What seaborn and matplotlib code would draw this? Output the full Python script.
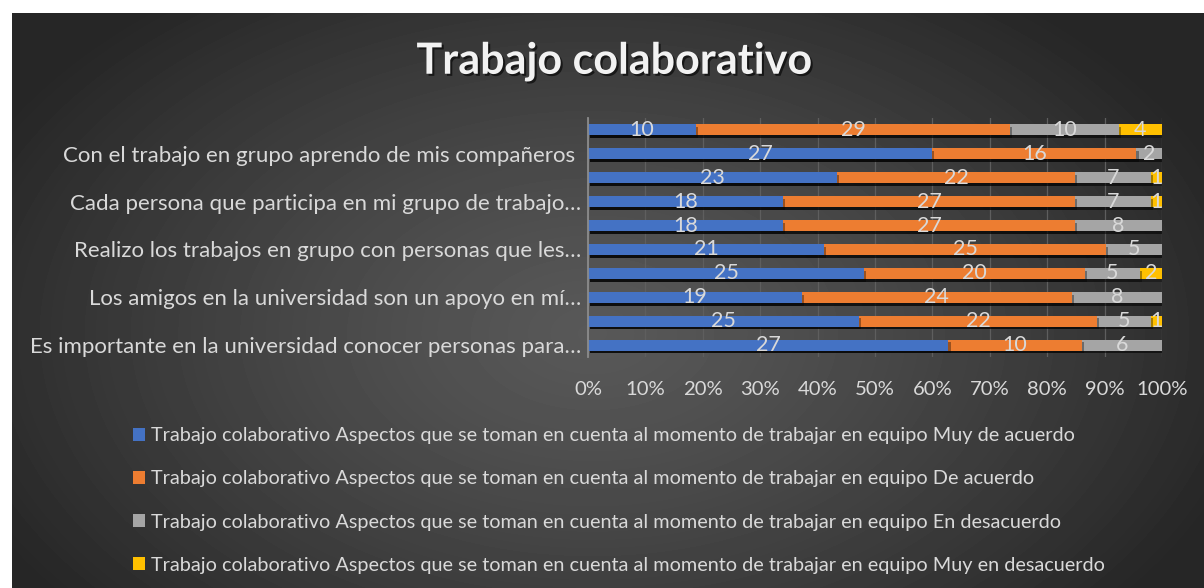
import numpy as np
import pandas as pd
import matplotlib
matplotlib.use('Agg')
import matplotlib.pyplot as plt
import matplotlib.ticker as mticker
import matplotlib.patheffects as pe
from matplotlib.patches import Patch
import seaborn as sns

# %% Datos (de arriba hacia abajo)
preguntas = ['',
             'Con el trabajo en grupo aprendo de mis compañeros ',
             '',
             'Cada persona que participa en mi grupo de trabajo…',
             '',
             'Realizo los trabajos en grupo con personas que les…',
             '',
             'Los amigos en la universidad son un apoyo en mí…',
             '',
             'Es importante en la universidad conocer personas para…']
muy_de_acuerdo = [10, 27, 23, 18, 18, 21, 25, 19, 25, 27]
de_acuerdo = [29, 16, 22, 27, 27, 25, 20, 24, 22, 10]
en_desacuerdo = [10, 2, 7, 7, 8, 5, 5, 8, 5, 6]
muy_en_desacuerdo = [4, 0, 1, 1, 0, 0, 2, 0, 1, 0]

series = ['Muy de acuerdo', 'De acuerdo', 'En desacuerdo', 'Muy en desacuerdo']
prefijo = 'Trabajo colaborativo Aspectos que se toman en cuenta al momento de trabajar en equipo '
colores = ['#4472C4', '#ED7D31', '#A5A5A5', '#FFC000']
ticks_x = [0, 0.1, 0.2, 0.3, 0.4, 0.5, 0.6, 0.7, 0.8, 0.9, 1.0]

# %% Armado del dataframe con porcentajes acumulados
df = pd.DataFrame({'fila': range(len(preguntas)),
                   series[0]: muy_de_acuerdo,
                   series[1]: de_acuerdo,
                   series[2]: en_desacuerdo,
                   series[3]: muy_en_desacuerdo})
total = df[series].sum(axis=1)
acumulado = df[series].cumsum(axis=1).div(total, axis=0)
for s in series:
    df['acum ' + s] = acumulado[s]

# %% Grafico
plt.rcParams['font.family'] = ['Lato', 'DejaVu Sans']
texto = '#D9D9D9'

fig = plt.figure(figsize=(12.04, 5.88), dpi=100, facecolor='white')

# fondo con degradado radial
bg = fig.add_axes([12 / 1204, 0, 1192 / 1204, 575 / 588], zorder=-10)
yy, xx = np.mgrid[0:575, 0:1192]
r = np.sqrt(((xx - 580) / 680) ** 2 + ((yy - 320) / 430) ** 2)
nivel = np.clip(0x58 / 255 - (0x58 - 0x26) / 255 * r ** 1.3, 0x26 / 255, 1)
bg.imshow(nivel, cmap='gray', vmin=0, vmax=1, aspect='auto')
bg.axis('off')

ax = fig.add_axes([588 / 1204, 1 - 357 / 588, 574 / 1204, 239 / 588])
ax.set_facecolor('none')

sombra = [pe.SimplePatchShadow(offset=(1.5, -2), shadow_rgbFace='black', alpha=0.35), pe.Normal()]
for i in reversed(range(len(series))):
    sns.barplot(data=df, x='acum ' + series[i], y='fila', orient='y', color=colores[i],
                saturation=1, width=0.46, ax=ax, linewidth=0, zorder=3)
for p in ax.patches:
    p.set_path_effects(sombra)

# etiquetas de datos centradas en cada segmento
for _, fila in df.iterrows():
    previo = 0
    for s in series:
        fin = fila['acum ' + s]
        if fila[s] > 0:
            ax.text((previo + fin) / 2, fila['fila'], f"{int(fila[s])}", ha='center', va='center',
                    color=texto, fontsize=15.5, zorder=5)
        previo = fin

ax.set_xlim(0, 1)
ax.set_ylim(len(preguntas) - 0.5, -0.5)
ax.set_xticks(ticks_x)
ax.xaxis.set_major_formatter(mticker.PercentFormatter(1.0, decimals=0))
ax.set_yticks(range(len(preguntas)))
ax.set_yticklabels(preguntas)
ax.tick_params(axis='x', length=0, pad=17, labelsize=14.6, labelcolor=texto)
ax.tick_params(axis='y', length=0, pad=5, labelsize=16, labelcolor=texto)
ax.set_xlabel('')
ax.set_ylabel('')
ax.xaxis.grid(True, color='#5E5E5E', linewidth=0.9)
ax.set_axisbelow(True)
for lado in ['top', 'right', 'bottom']:
    ax.spines[lado].set_visible(False)
ax.spines['left'].set_color('#8C8C8C')
ax.spines['left'].set_linewidth(1.3)
ax.spines['left'].set_zorder(6)

fig.text(614 / 1204, 1 - 61 / 588, 'Trabajo colaborativo', ha='center', va='center',
         fontsize=31, fontweight='bold', color='#F2F2F2',
         path_effects=[pe.SimplePatchShadow(offset=(1.5, -1.5), shadow_rgbFace='black', alpha=0.6),
                       pe.Normal()])

handles = [Patch(facecolor=c, edgecolor='none') for c in colores]
etiquetas = [prefijo + s for s in series]
fig.legend(handles, etiquetas, loc='center left', bbox_to_anchor=(133 / 1204, 1 - 500.5 / 588),
           frameon=False, fontsize=14.3, labelcolor=texto, borderpad=0, borderaxespad=0,
           handlelength=0.6, handleheight=0.65, handletextpad=0.3, labelspacing=1.32)

plt.savefig('out.png', dpi=100, facecolor='white')
